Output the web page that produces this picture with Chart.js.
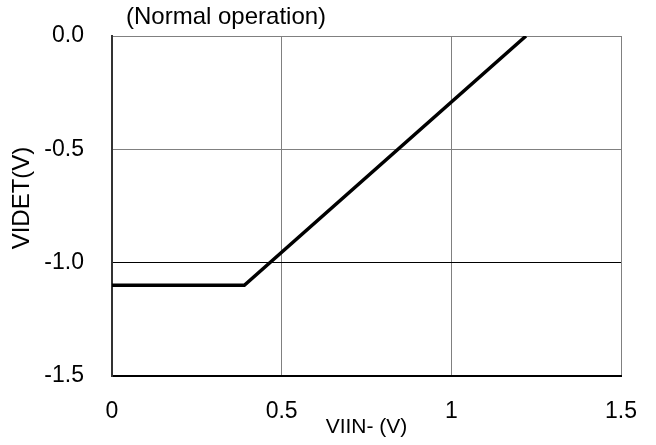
<!DOCTYPE html>
<html>
<head>
<meta charset="utf-8">
<script src="https://cdn.jsdelivr.net/npm/chart.js@4"></script>
<style>
  html, body { margin: 0; padding: 0; background: #fff; }
  #wrap { width: 656px; height: 445px; position: relative; }
</style>
</head>
<body>
<div id="wrap"><canvas id="chart"></canvas></div>
<script>
// ── data ──
const xVals = [0, 0.39, 1.22];
const yVals = [-1.1, -1.1, 0];
const xTicks = [0, 0.5, 1, 1.5];
const xTickLabels = ['0', '0.5', '1', '1.5'];
const yTicks = [-1.5, -1.0, -0.5, 0.0];
const yTickLabels = ['-1.5', '-1.0', '-0.5', '0.0'];
const chartTitle = '(Normal operation)';
const xTitle = 'VIIN- (V)';
const yTitle = 'VIDET(V)';

const FONT = "'Liberation Sans', Arial, sans-serif";

// titles drawn relative to the plot area
const textPlugin = {
  id: 'texts',
  afterDraw(chart) {
    const { ctx, chartArea: a } = chart;
    ctx.save();
    ctx.fillStyle = '#000';
    ctx.font = `24px ${FONT}`;
    ctx.textAlign = 'left';
    ctx.textBaseline = 'alphabetic';
    ctx.fillText(chartTitle, a.left + 14, 24);

    ctx.font = `21px ${FONT}`;
    ctx.textAlign = 'center';
    ctx.textBaseline = 'middle';
    ctx.fillText(xTitle, (a.left + a.right) / 2, 427);

    ctx.translate(22, (a.top + a.bottom) / 2 - 8);
    ctx.rotate(-Math.PI / 2);
    ctx.font = `24px ${FONT}`;
    ctx.fillText(yTitle, 0, 0);
    ctx.restore();
  }
};

new Chart(document.getElementById('chart'), {
  type: 'scatter',
  data: {
    datasets: [{
      data: xVals.map((x, i) => ({ x, y: yVals[i] })),
      showLine: true,
      borderColor: '#000',
      borderWidth: 3.5,
      pointRadius: 0,
      tension: 0
    }]
  },
  options: {
    responsive: true,
    maintainAspectRatio: false,
    animation: false,
    layout: { padding: { left: 0, top: 36, right: 35, bottom: 0 } },
    plugins: { legend: { display: false }, tooltip: { enabled: false } },
    scales: {
      x: {
        type: 'linear', min: 0, max: 1.5,
        afterBuildTicks: s => { s.ticks = xTicks.map(v => ({ value: v })); },
        afterFit: s => { s.height = 69; s.paddingLeft = 0; s.paddingRight = 0; },
        ticks: {
          padding: 22, color: '#000', font: { family: FONT, size: 23 },
          maxRotation: 0,
          callback: v => xTickLabels[xTicks.indexOf(v)]
        },
        grid: { color: '#808080', lineWidth: 1, drawTicks: false },
        border: { color: '#000', width: 2 }
      },
      y: {
        type: 'linear', min: -1.5, max: 0,
        afterBuildTicks: s => { s.ticks = yTicks.map(v => ({ value: v })); },
        afterFit: s => { s.width = 112; s.paddingTop = 0; s.paddingBottom = 0; },
        ticks: {
          padding: 28, color: '#000', font: { family: FONT, size: 23 },
          callback: v => yTickLabels[yTicks.indexOf(v)]
        },
        grid: {
          color: c => (c.tick && c.tick.value === -1) ? '#000' : '#808080',
          lineWidth: 1, drawTicks: false
        },
        border: { color: '#333', width: 2 }
      }
    }
  },
  plugins: [textPlugin]
});
</script>
</body>
</html>
